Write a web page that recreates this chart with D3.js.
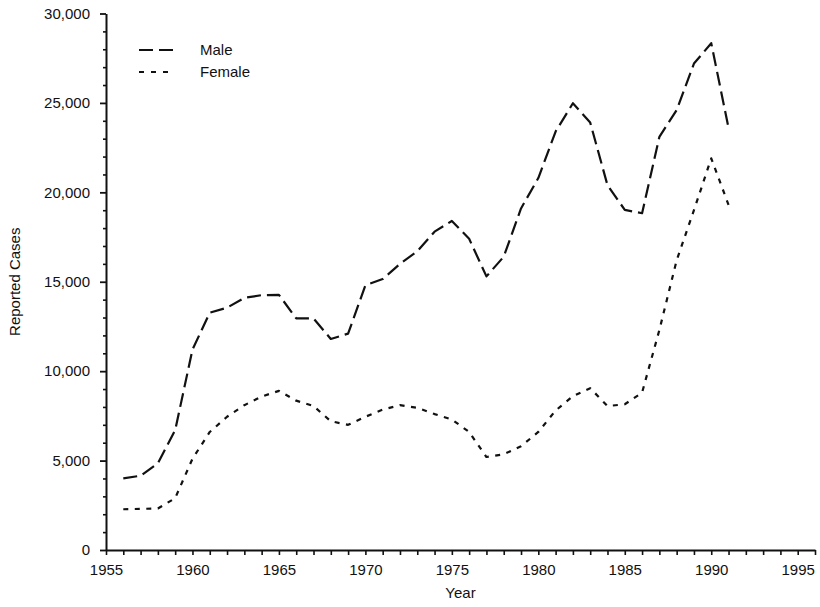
<!DOCTYPE html>
<html>
<head>
<meta charset="utf-8">
<script src="https://cdn.jsdelivr.net/npm/d3@7"></script>
<style>
  html, body { margin: 0; padding: 0; background: #fff; }
  svg { display: block; font-family: "Liberation Sans", Arial, Helvetica, sans-serif; }
</style>
</head>
<body>
<svg id="chart" width="820" height="607"></svg>
<script>
const years = [1956,1957,1958,1959,1960,1961,1962,1963,1964,1965,1966,1967,1968,1969,1970,1971,1972,1973,1974,1975,1976,1977,1978,1979,1980,1981,1982,1983,1984,1985,1986,1987,1988,1989,1990,1991];
const maleCases = [4010,4150,4850,6700,11200,13270,13550,14100,14250,14270,12950,12950,11800,12100,14800,15150,16000,16700,17800,18400,17400,15300,16400,19100,20800,23400,24980,23900,20400,19020,18830,23100,24600,27200,28340,23600];
const femaleCases = [2280,2300,2320,2900,5100,6600,7450,8100,8580,8900,8350,8050,7200,7000,7450,7850,8100,7950,7600,7300,6600,5200,5350,5800,6600,7800,8600,9050,8050,8150,8800,12300,16200,19000,21900,19300];
const seriesNames = ["Male", "Female"];
const yMajorTicks = [0,5000,10000,15000,20000,25000,30000];
const xLabelYears = [1955,1960,1965,1970,1975,1980,1985,1990,1995];

(function () {
const svg = d3.select("#chart");
const mLeft = 106, mRight = 815, mTop = 13.5, mBottom = 550;

const x = d3.scaleLinear().domain([1955, 1996]).range([mLeft, mRight]);
const y = d3.scaleLinear().domain([0, 30000]).range([mBottom, mTop]);

const ink = "#111";
const font = '"Liberation Sans", Arial, sans-serif';

// Y axis: minor ticks
const yMinor = d3.range(0, 30001, 1000).filter(v => v % 5000 !== 0);
svg.append("g")
  .attr("transform", `translate(${mLeft},0)`)
  .call(d3.axisLeft(y).tickValues(yMinor).tickSize(3).tickSizeOuter(0).tickFormat(""))
  .call(g => g.select(".domain").remove())
  .call(g => g.selectAll("line").attr("stroke", ink).attr("stroke-width", 1.6));

// Y axis: major ticks
svg.append("g")
  .attr("transform", `translate(${mLeft},0)`)
  .call(d3.axisLeft(y).tickValues(yMajorTicks).tickSize(6).tickSizeOuter(0).tickPadding(10).tickFormat(d3.format(",")))
  .call(g => g.select(".domain").attr("stroke", ink).attr("stroke-width", 2))
  .call(g => g.selectAll("line").attr("stroke", ink).attr("stroke-width", 1.8))
  .call(g => g.selectAll("text").attr("fill", ink).style("font-size", "15px").style("font-family", font));

// X axis
const xTickYears = d3.range(1955, 1997);
svg.append("g")
  .attr("transform", `translate(0,${mBottom})`)
  .call(d3.axisBottom(x).tickValues(xTickYears).tickSize(5).tickSizeOuter(0).tickPadding(9)
        .tickFormat(d => xLabelYears.includes(d) ? String(d) : ""))
  .call(g => g.select(".domain").attr("stroke", ink).attr("stroke-width", 2))
  .call(g => g.selectAll("line").attr("stroke", ink).attr("stroke-width", 1.6))
  .call(g => g.selectAll("text").attr("fill", ink).style("font-size", "15px").style("font-family", font));

// Axis titles
svg.append("text")
  .attr("x", (mLeft + mRight) / 2)
  .attr("y", 598)
  .attr("text-anchor", "middle")
  .attr("fill", ink)
  .style("font-size", "15px")
  .text("Year");

svg.append("text")
  .attr("transform", `translate(20,${(mTop + mBottom) / 2}) rotate(-90)`)
  .attr("text-anchor", "middle")
  .attr("fill", ink)
  .style("font-size", "15px")
  .text("Reported Cases");

// Lines
const dashes = ["14,6", "5,6.5"];
const seriesData = [maleCases, femaleCases];
const line = d3.line()
  .x(d => x(d.year))
  .y(d => y(d.value));

seriesData.forEach((vals, i) => {
  const pts = years.map((yr, j) => ({ year: yr, value: vals[j] }));
  svg.append("path")
    .datum(pts)
    .attr("d", line)
    .attr("fill", "none")
    .attr("stroke", ink)
    .attr("stroke-width", 2.2)
    .attr("stroke-dasharray", dashes[i])
    .attr("stroke-linejoin", "round");
});

// Legend
const legend = svg.append("g");
seriesNames.forEach((name, i) => {
  const ly = 50 + i * 22;
  legend.append("line")
    .attr("x1", 139).attr("x2", 174)
    .attr("y1", ly).attr("y2", ly)
    .attr("stroke", ink)
    .attr("stroke-width", 2)
    .attr("stroke-dasharray", i === 0 ? "14,6" : "5,7");
  legend.append("text")
    .attr("x", 200)
    .attr("y", ly + 5)
    .attr("fill", ink)
    .style("font-size", "15px")
    .text(name);
});
})();
</script>
</body>
</html>
